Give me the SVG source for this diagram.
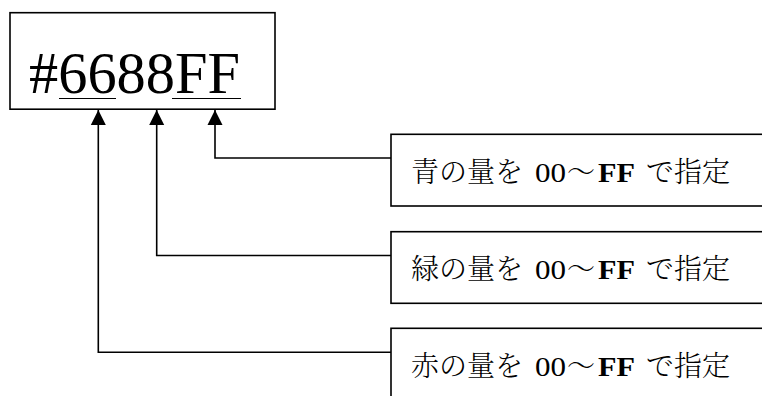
<svg xmlns="http://www.w3.org/2000/svg" width="762" height="396" viewBox="0 0 762 396">
<style>
.box{fill:#fff;stroke:#000;stroke-width:1.6}
.conn{fill:none;stroke:#000;stroke-width:1.6}
.code{font-family:"Liberation Serif","Times New Roman",serif;font-size:58.5px;fill:#000}
.lbl{font-family:"Liberation Serif","Times New Roman",serif;font-size:27px;font-weight:normal;fill:#000}
.jp{font-family:"Noto Serif CJK JP","Noto Sans CJK JP",sans-serif;font-weight:300;font-size:28px}
.ff{font-weight:bold}
.ul{stroke:#000;stroke-width:1.2}
</style>
<defs>
<marker id="arr" markerUnits="userSpaceOnUse" markerWidth="16" markerHeight="16" viewBox="0 0 16 16" refX="15" refY="8" orient="auto">
<path d="M0,0.5 L15,8 L0,15.5 Z" fill="#000"/>
</marker>
</defs>
<g id="color-code">
<rect class="box" x="10" y="12.7" width="265" height="96.5"/>
<text class="code" x="29" y="93.3" textLength="211" lengthAdjust="spacingAndGlyphs">#6688FF</text>
<line class="ul" x1="59" y1="98.5" x2="116" y2="98.5"/>
<line class="ul" x1="172" y1="98.5" x2="241" y2="98.5"/>
</g>
<g id="connectors">
<polyline class="conn" points="391,158 215,158 215,110" marker-end="url(#arr)"/>
<polyline class="conn" points="391,255.5 156.7,255.5 156.7,110" marker-end="url(#arr)"/>
<polyline class="conn" points="391,352.3 98.3,352.3 98.3,110" marker-end="url(#arr)"/>
</g>
<g id="blue">
<rect class="box" x="391" y="134.3" width="380" height="71.7"/>
<text class="lbl" y="181.5"><tspan class="jp" x="411">青の量を</tspan><tspan x="535" textLength="31" lengthAdjust="spacingAndGlyphs">00</tspan><tspan class="jp" x="567">～</tspan><tspan class="ff" x="598" textLength="37" lengthAdjust="spacingAndGlyphs">FF</tspan><tspan class="jp" x="646">で指定</tspan></text>
</g>
<g id="green">
<rect class="box" x="391" y="231.7" width="380" height="71.6"/>
<text class="lbl" y="278.9"><tspan class="jp" x="411">緑の量を</tspan><tspan x="535" textLength="31" lengthAdjust="spacingAndGlyphs">00</tspan><tspan class="jp" x="567">～</tspan><tspan class="ff" x="598" textLength="37" lengthAdjust="spacingAndGlyphs">FF</tspan><tspan class="jp" x="646">で指定</tspan></text>
</g>
<g id="red">
<rect class="box" x="391" y="328.3" width="380" height="80"/>
<text class="lbl" y="375.5"><tspan class="jp" x="411">赤の量を</tspan><tspan x="535" textLength="31" lengthAdjust="spacingAndGlyphs">00</tspan><tspan class="jp" x="567">～</tspan><tspan class="ff" x="598" textLength="37" lengthAdjust="spacingAndGlyphs">FF</tspan><tspan class="jp" x="646">で指定</tspan></text>
</g>
</svg>
